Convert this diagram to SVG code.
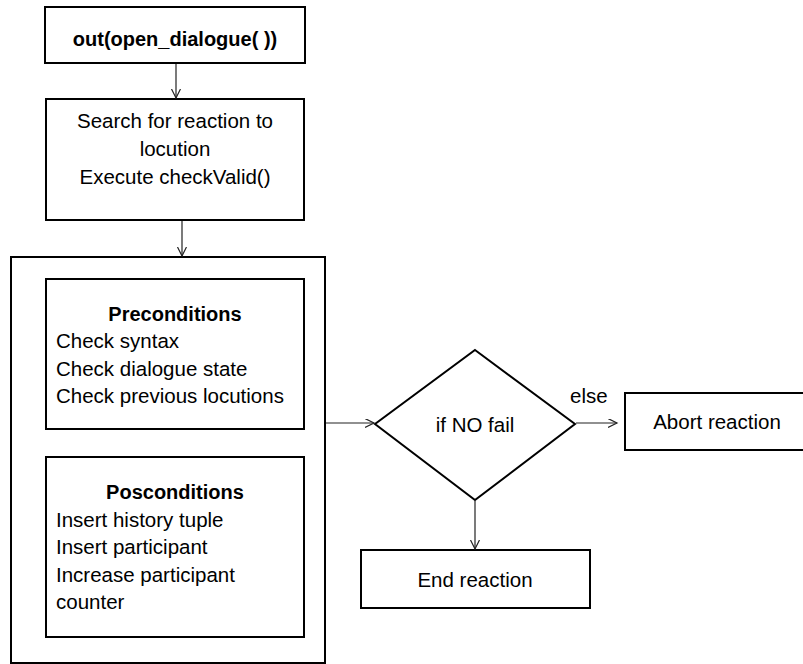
<svg xmlns="http://www.w3.org/2000/svg" width="803" height="664" viewBox="0 0 803 664">
<defs>
<style>
.box{fill:#fff;stroke:#000;stroke-width:2}
.t{font-family:"Liberation Sans",Arial,sans-serif;font-size:20.5px;fill:#000}
.b{font-weight:bold;font-size:20px}
.c{text-anchor:middle}
.conn{stroke:#222;stroke-width:1.2;fill:none;marker-end:url(#arr)}
</style>
<marker id="arr" markerUnits="userSpaceOnUse" markerWidth="12" markerHeight="12" refX="9" refY="4.5" orient="auto">
<path d="M0,0 L9,4.5 L0,9" fill="none" stroke="#222" stroke-width="1.2"/>
</marker>
</defs>
<rect width="803" height="664" fill="#fff"/>
<g id="start">
<rect class="box" x="45" y="7" width="260" height="56"/>
<text class="t b c" x="175" y="46">out(open_dialogue( ))</text>
</g>
<g id="search">
<rect class="box" x="46" y="99" width="258" height="121"/>
<text class="t c" x="175" y="128">Search for reaction to</text>
<text class="t c" x="175" y="156">locution</text>
<text class="t c" x="175" y="184">Execute checkValid()</text>
</g>
<g id="checkValid">
<rect class="box" x="11" y="257" width="314" height="406"/>
</g>
<g id="preconditions">
<rect class="box" x="46" y="279" width="258" height="150"/>
<text class="t b c" x="175" y="321">Preconditions</text>
<text class="t" x="56" y="348">Check syntax</text>
<text class="t" x="56" y="376">Check dialogue state</text>
<text class="t" x="56" y="403">Check previous locutions</text>
</g>
<g id="posconditions">
<rect class="box" x="46" y="457" width="258" height="180"/>
<text class="t b c" x="175" y="499">Posconditions</text>
<text class="t" x="56" y="527">Insert history tuple</text>
<text class="t" x="56" y="554">Insert participant</text>
<text class="t" x="56" y="582">Increase participant</text>
<text class="t" x="56" y="609">counter</text>
</g>
<g id="decision">
<polygon class="box" points="475,350 575,424 475,500 375,424"/>
<text class="t c" x="475" y="432">if NO fail</text>
</g>
<g id="abort">
<rect class="box" x="625" y="393" width="185" height="57"/>
<text class="t c" x="717" y="429">Abort reaction</text>
</g>
<g id="end">
<rect class="box" x="361" y="550" width="229" height="58"/>
<text class="t c" x="475" y="587">End reaction</text>
</g>
<g id="connectors">
<line class="conn" x1="176" y1="64" x2="176" y2="98"/>
<line class="conn" x1="182" y1="221" x2="182" y2="256"/>
<line class="conn" x1="326" y1="423" x2="374" y2="423"/>
<line class="conn" x1="576" y1="423" x2="617" y2="423"/>
<line class="conn" x1="475" y1="501" x2="475" y2="549"/>
<text class="t" x="570" y="403">else</text>
</g>
</svg>
